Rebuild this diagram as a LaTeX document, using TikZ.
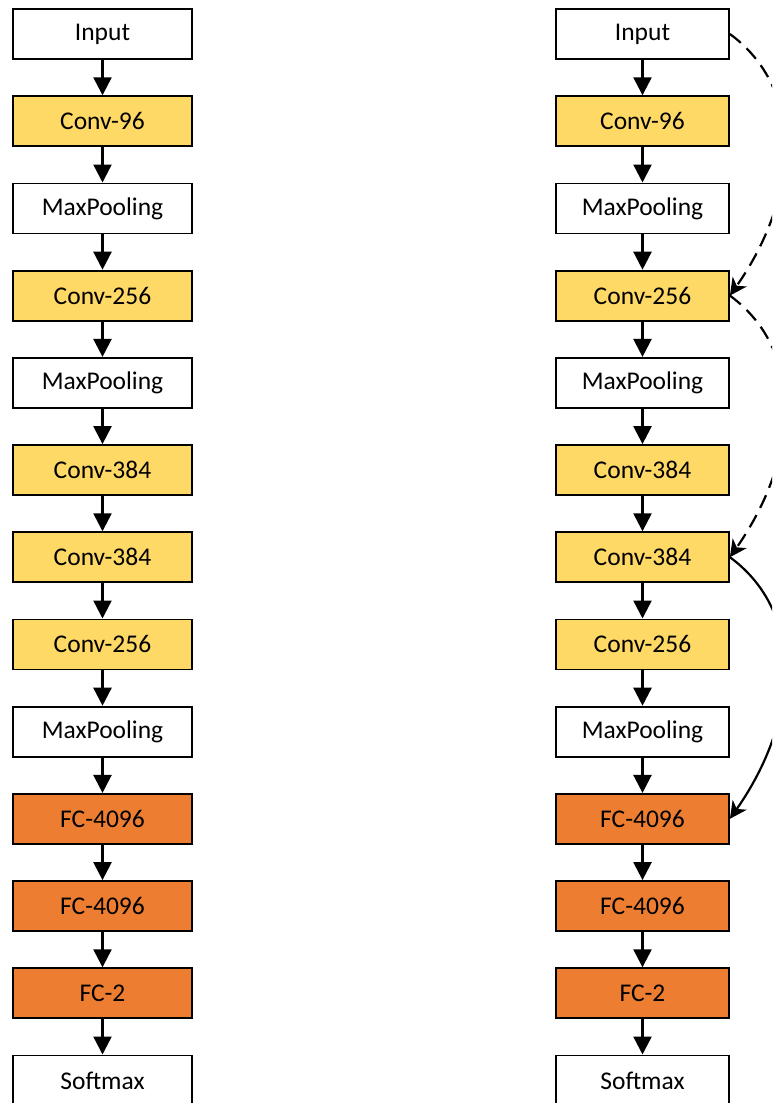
\documentclass[tikz,border=0pt]{standalone}
\usepackage{fontspec}
\setmainfont{Carlito}
\usepackage{xcolor}
\usepackage{tikz}
\usetikzlibrary{arrows.meta,positioning}

\definecolor{convyel}{HTML}{FFD966}
\definecolor{fcorange}{HTML}{ED7D31}

\tikzset{
  layer/.style={draw,line width=1.8pt,minimum height=50pt,inner sep=0pt,
    font=\fontsize{25.5}{30}\selectfont},
  lcol/.style={layer,minimum width=179pt},
  rcol/.style={layer,minimum width=173pt},
  conv/.style={fill=convyel},
  fc/.style={fill=fcorange},
  flow/.style={line width=2.4pt,-{Triangle[width=18pt,length=18pt]}},
  skip/.style={line width=2.2pt,-{Stealth[width=17pt,length=17pt,inset=5pt]}},
}

\begin{document}
\begin{tikzpicture}[x=1pt,y=1pt]
  \useasboundingbox (0,0) rectangle (772,-1103);
  \clip (0,0) rectangle (772,-1103);

  % plain network
  \node[lcol] (inL) at (102.5,-34) {Input};
  \node[lcol,conv] (c1L) at (102.5,-121.2) {Conv-96};
  \node[lcol] (p1L) at (102.5,-208.4) {MaxPooling};
  \node[lcol,conv] (c2L) at (102.5,-295.6) {Conv-256};
  \node[lcol] (p2L) at (102.5,-382.8) {MaxPooling};
  \node[lcol,conv] (c3L) at (102.5,-470) {Conv-384};
  \node[lcol,conv] (c4L) at (102.5,-557.2) {Conv-384};
  \node[lcol,conv] (c5L) at (102.5,-644.4) {Conv-256};
  \node[lcol] (p3L) at (102.5,-731.6) {MaxPooling};
  \node[lcol,fc] (f1L) at (102.5,-818.8) {FC-4096};
  \node[lcol,fc] (f2L) at (102.5,-906) {FC-4096};
  \node[lcol,fc] (f3L) at (102.5,-993.2) {FC-2};
  \node[lcol] (smL) at (102.5,-1080.4) {Softmax};

  \draw[flow] (inL) -- (c1L);
  \draw[flow] (c1L) -- (p1L);
  \draw[flow] (p1L) -- (c2L);
  \draw[flow] (c2L) -- (p2L);
  \draw[flow] (p2L) -- (c3L);
  \draw[flow] (c3L) -- (c4L);
  \draw[flow] (c4L) -- (c5L);
  \draw[flow] (c5L) -- (p3L);
  \draw[flow] (p3L) -- (f1L);
  \draw[flow] (f1L) -- (f2L);
  \draw[flow] (f2L) -- (f3L);
  \draw[flow] (f3L) -- (smL);

  % network with shortcuts
  \node[rcol] (inR) at (642.5,-34) {Input};
  \node[rcol,conv] (c1R) at (642.5,-121.2) {Conv-96};
  \node[rcol] (p1R) at (642.5,-208.4) {MaxPooling};
  \node[rcol,conv] (c2R) at (642.5,-295.6) {Conv-256};
  \node[rcol] (p2R) at (642.5,-382.8) {MaxPooling};
  \node[rcol,conv] (c3R) at (642.5,-470) {Conv-384};
  \node[rcol,conv] (c4R) at (642.5,-557.2) {Conv-384};
  \node[rcol,conv] (c5R) at (642.5,-644.4) {Conv-256};
  \node[rcol] (p3R) at (642.5,-731.6) {MaxPooling};
  \node[rcol,fc] (f1R) at (642.5,-818.8) {FC-4096};
  \node[rcol,fc] (f2R) at (642.5,-906) {FC-4096};
  \node[rcol,fc] (f3R) at (642.5,-993.2) {FC-2};
  \node[rcol] (smR) at (642.5,-1080.4) {Softmax};

  \draw[flow] (inR) -- (c1R);
  \draw[flow] (c1R) -- (p1R);
  \draw[flow] (p1R) -- (c2R);
  \draw[flow] (c2R) -- (p2R);
  \draw[flow] (p2R) -- (c3R);
  \draw[flow] (c3R) -- (c4R);
  \draw[flow] (c4R) -- (c5R);
  \draw[flow] (c5R) -- (p3R);
  \draw[flow] (p3R) -- (f1R);
  \draw[flow] (f1R) -- (f2R);
  \draw[flow] (f2R) -- (f3R);
  \draw[flow] (f3R) -- (smR);

  % shortcuts on the right side
  \draw[skip,dash pattern=on 14pt off 8pt]
    (inR.east) .. controls +(75,-55) and +(70,100) .. (c2R.east);
  \draw[skip,dash pattern=on 14pt off 8pt]
    (c2R.east) .. controls +(75,-55) and +(70,100) .. (c4R.east);
  \draw[skip]
    (c4R.east) .. controls +(75,-55) and +(70,100) .. (f1R.east);
\end{tikzpicture}
\end{document}
